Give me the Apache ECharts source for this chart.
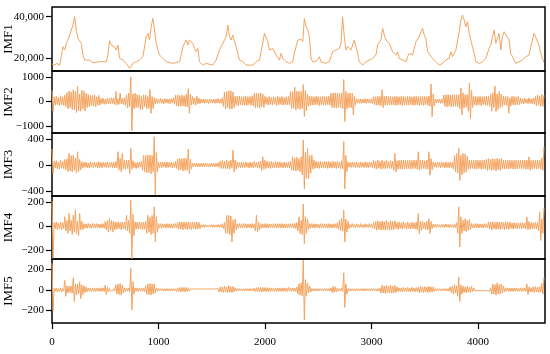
<!DOCTYPE html>
<html>
<head>
<meta charset="utf-8">
<script src="https://cdn.jsdelivr.net/npm/echarts@6/dist/echarts.min.js"></script>
<style>html,body{margin:0;padding:0;background:#fff}#c{width:550px;height:354px}</style>
</head>
<body>
<div id="c"></div>
<script>
// ---------- DATA ----------
const panelNames = ['IMF1', 'IMF2', 'IMF3', 'IMF4', 'IMF5'];
const xTicks = [0, 1000, 2000, 3000, 4000];
const yTicks1 = [20000, 40000];
const yTicks2 = [-1000, 0, 1000];
const yTicks3 = [-400, 0, 400];
const yTicks4 = [-200, 0, 200];
const yTicks5 = [-200, 0, 200];

// IMF1: sample index and value (traced)
const imf1X = [0,25,47,72,88,103,119,134,150,166,181,197,213,228,244,260,275,291,306,322,353,385,447,510,525,541,557,572,588,604,619,635,650,666,697,729,760,791,822,854,885,901,916,932,947,963,979,994,1010,1041,1073,1135,1198,1213,1229,1245,1260,1276,1291,1307,1323,1338,1354,1370,1385,1417,1448,1510,1542,1573,1604,1620,1635,1651,1667,1682,1698,1714,1729,1745,1760,1792,1823,1886,1917,1948,1979,1995,2011,2026,2042,2073,2104,2136,2151,2167,2198,2230,2261,2276,2292,2308,2323,2339,2355,2370,2386,2401,2417,2433,2448,2479,2511,2526,2573,2604,2636,2667,2698,2714,2729,2745,2761,2776,2808,2839,2855,2870,2886,2917,2949,2980,3011,3043,3058,3090,3105,3121,3136,3168,3199,3230,3246,3261,3293,3324,3340,3355,3386,3418,3449,3465,3480,3496,3511,3527,3543,3574,3605,3636,3668,3699,3730,3746,3761,3793,3824,3840,3855,3871,3886,3902,3918,3933,3949,3965,3980,4012,4043,4074,4105,4121,4137,4152,4168,4183,4199,4215,4230,4246,4262,4293,4308,4324,4355,4371,4418,4449,4480,4512,4527,4543,4574,4590,4605,4620];
const imf1Y = [17240,16760,17560,16600,17560,25570,23970,27180,28780,31180,33590,35990,40000,33590,29580,30380,27180,21570,19160,18360,19160,17880,18360,18360,21570,28460,26370,27180,25570,23970,26370,19960,20760,19160,17560,15150,17560,18360,19160,20760,30380,31980,28780,35190,39200,33590,27180,23970,21570,19960,18360,17560,18360,21570,25570,27180,28780,26370,28780,29580,27180,24770,23170,24770,18360,16760,17560,16760,19160,23970,27180,26370,30380,35990,30380,28780,31180,31980,25570,22370,19160,18360,16760,16760,18360,19160,27180,31980,31180,27980,23970,24770,21570,19160,22370,19960,18360,17560,18360,22370,25570,28780,27980,29100,27980,39200,35190,33590,30380,19960,18360,18360,20760,18360,17560,18360,23170,23970,24770,27180,40000,30380,23970,25570,23970,28780,27980,22370,18360,16760,18360,19160,19960,21570,26370,28780,34390,31180,28780,27180,23170,21570,23170,19960,19160,18360,20760,22370,21570,27980,30380,32790,34390,31180,29580,23170,22370,19960,18360,16760,17560,19160,19960,23170,20760,23970,32790,38400,40800,38400,35190,37600,31980,32790,25570,22370,18360,17560,18360,19960,24770,26370,30380,33590,27180,27980,31980,23970,30380,32790,31980,28780,22370,20760,17560,16760,19160,20760,21570,28780,31980,31180,26370,22370,19960,18200];

// IMF2..IMF5: one value every STEP samples
const STEP = 10;
const imf2 = [
450,-400,180,-150,210,-120,160,-180,230,-140,190,-160,250,-210,350,-300,420,-260,380,-330,
480,-350,410,-450,620,-380,300,-400,450,-310,410,-390,330,-250,280,-210,240,-180,260,-190,
270,-220,190,-160,240,-150,120,-100,130,-120,90,-110,140,-100,120,-110,150,-90,130,-130,
400,-140,110,-120,340,-100,130,-120,150,-160,270,-270,340,-220,1000,-1200,300,-300,330,-250,
280,-250,260,-330,200,-340,270,-210,260,-300,200,-280,480,-480,200,-300,150,-90,110,-80,
100,-70,120,-80,90,-100,110,-60,100,-80,100,-90,110,-70,150,-120,250,-180,270,-200,
240,-200,260,-180,230,-210,290,-220,520,-480,300,-150,200,-120,140,-150,210,-100,130,-90,
100,-60,90,-80,110,-70,80,-90,100,-60,90,-70,90,-80,100,-60,110,-70,90,-80,
150,-200,380,-300,400,-250,440,-320,430,-300,380,-250,210,-150,200,-180,220,-140,190,-160,
200,-150,210,-170,190,-130,200,-160,230,-180,330,-250,340,-240,320,-280,350,-220,300,-240,
210,-120,170,-150,200,-130,160,-140,190,-110,170,-160,210,-140,180,-120,200,-150,160,-130,
190,-140,200,-150,400,-300,390,-280,575,-350,420,-300,410,-320,400,-290,685,-615,450,-380,
300,-200,210,-160,200,-150,190,-140,210,-130,200,-170,190,-140,210,-150,200,-160,190,-130,
210,-150,330,-250,340,-260,350,-280,330,-240,340,-260,350,-300,890,-820,400,-300,340,-250,
340,-260,330,-550,200,-150,110,-60,100,-80,100,-70,90,-70,110,-80,100,-60,90,-70,
110,-90,200,-140,190,-150,210,-160,200,-170,480,-250,210,-160,220,-150,200,-140,200,-150,
190,-140,210,-160,200,-150,190,-130,210,-170,200,-140,190,-160,210,-150,200,-130,190,-160,
200,-150,210,-140,190,-160,200,-150,210,-170,200,-130,190,-160,220,-200,710,-620,300,-180,
100,-70,90,-60,100,-80,100,-70,260,-200,270,-220,280,-190,260,-230,270,-210,280,-200,
270,-220,270,-300,550,-550,350,-260,280,-230,270,-400,750,-690,450,-250,210,-150,200,-160,
200,-140,210,-170,190,-130,200,-150,210,-160,200,-200,300,-400,350,-250,617,-411,300,-330,
400,-250,300,-200,210,-150,200,-160,200,-480,150,-180,210,-140,200,-150,190,-130,210,-140,
140,-80,110,-100,130,-70,100,-90,140,-80,110,-100,130,-120,200,-180,270,-150,210,-200,
280,-200,250];
const imf3 = [
250,-130,60,-40,70,-55,50,-60,80,-45,60,-55,90,-70,100,-100,182,-90,150,-104,
150,-80,110,-120,208,-100,90,-70,55,-40,45,-30,50,-40,35,-45,52,-30,42,-40,
50,-30,40,-45,55,-35,45,-40,48,-30,42,-35,52,-40,40,-30,50,-35,44,-40,
60,-40,208,-70,104,-100,182,-60,78,-60,78,-50,75,-130,260,-60,70,-40,42,-52,
42,-40,50,-30,60,-80,150,-100,150,-120,160,-110,156,-130,150,-100,440,-460,200,-100,
50,-35,45,-40,52,-30,48,-40,50,-35,45,-30,48,-40,42,-35,60,-50,100,-80,
104,-70,100,-90,110,-80,104,-80,250,-130,90,-60,35,-20,30,-25,30,-20,28,-25,
30,-20,30,-25,32,-20,28,-25,30,-22,30,-20,28,-25,30,-22,40,-30,62,-50,
78,-50,62,-60,80,-50,65,-60,78,-40,234,-104,80,-60,52,-30,42,-40,50,-35,
42,-35,52,-30,40,-40,50,-35,42,-40,55,-30,45,-40,52,-45,60,-80,130,-60,
78,-50,62,-40,52,-50,60,-40,50,-45,62,-40,52,-40,52,-35,42,-40,50,-35,
42,-35,52,-40,60,-80,130,-80,104,-90,125,-80,100,-100,130,-150,390,-365,200,-200,
260,-208,150,-120,156,-60,80,-50,62,-40,52,-50,60,-40,50,-45,62,-40,52,-50,
60,-40,50,-45,62,-40,52,-50,60,-40,50,-50,70,-60,365,-365,150,-100,52,-30,
42,-35,50,-30,44,-40,52,-35,40,-40,50,-30,42,-35,52,-35,44,-40,50,-30,
42,-40,78,-50,62,-60,80,-45,60,-60,78,-50,62,-55,75,-45,60,-50,70,-50,
60,-80,182,-104,70,-60,78,-60,78,-60,80,-55,76,-60,78,-50,78,-60,76,-50,
78,-50,78,-60,208,-80,80,-60,78,-50,70,-60,80,-60,208,-156,100,-70,52,-30,
42,-35,50,-30,44,-40,52,-30,42,-40,50,-35,44,-40,52,-35,42,-60,150,-100,
182,-120,260,-234,150,-150,182,-120,170,-100,140,-60,78,-60,78,-50,76,-60,78,-55,
78,-50,76,-60,78,-55,80,-60,94,-80,104,-70,94,-80,100,-70,94,-90,104,-70,
94,-80,104,-60,80,-60,78,-55,78,-60,78,-50,76,-60,78,-55,78,-60,76,-50,
78,-60,78,-50,76,-60,80,-60,130,-80,78,-60,78,-50,76,-60,78,-50,78,-60,
110,-80,280];
const imf4 = [
210,-270,30,-20,36,-28,25,-22,34,-30,30,-20,80,-40,48,-60,106,-40,50,-70,
92,-50,140,-62,40,-80,106,-30,40,-30,22,-15,20,-18,24,-12,18,-20,22,-15,
20,-15,22,-12,18,-16,20,-14,20,-18,40,-30,48,-50,64,-35,46,-50,40,-30,
34,-25,36,-20,32,-30,34,-22,34,-30,92,-40,48,-60,218,-272,100,-80,36,-25,
34,-25,36,-22,32,-30,34,-25,40,-60,92,-50,76,-70,90,-60,162,-130,80,-50,
22,-14,20,-18,20,-12,18,-16,22,-15,20,-14,20,-18,20,-15,22,-16,30,-25,
36,-25,34,-30,38,-22,32,-28,36,-25,34,-30,34,-20,32,-26,36,-24,30,-20,
12,-8,12,-10,14,-8,10,-9,12,-7,12,-10,12,-8,10,-9,14,-10,12,-10,
20,-20,30,-60,92,-60,90,-70,85,-132,50,-60,60,-30,20,-15,22,-14,20,-16,
22,-14,20,-16,20,-12,18,-15,22,-16,20,-40,92,-48,30,-30,22,-15,20,-14,
22,-15,20,-16,20,-12,18,-15,22,-14,20,-16,20,-13,20,-15,22,-14,18,-15,
20,-14,20,-15,22,-13,20,-16,24,-20,30,-40,78,-62,50,-70,185,-146,80,-60,
60,-30,22,-16,22,-14,20,-15,20,-12,18,-16,22,-14,20,-15,20,-13,20,-16,
22,-14,18,-15,20,-13,20,-16,30,-25,48,-40,64,-40,134,-132,60,-50,40,-20,
14,-10,22,-10,14,-12,20,-9,14,-11,22,-10,12,-12,20,-10,14,-11,22,-10,
14,-15,30,-25,39,-35,45,-28,38,-32,44,-30,39,-34,46,-28,36,-33,45,-30,
39,-30,45,-20,30,-28,36,-20,28,-25,38,-18,26,-27,36,-20,28,-24,34,-20,
28,-25,36,-30,106,-62,40,-35,40,-20,30,-28,40,-30,64,-62,40,-20,17,-10,
14,-10,17,-8,12,-11,16,-9,14,-10,18,-8,14,-12,16,-9,12,-12,20,-15,
30,-60,162,-174,80,-60,50,-40,62,-45,48,-35,55,-30,22,-15,20,-14,22,-14,
20,-14,20,-12,18,-16,22,-14,20,-15,36,-25,34,-30,38,-22,32,-28,36,-24,
34,-28,36,-22,32,-30,38,-24,34,-26,36,-20,28,-24,30,-18,26,-22,28,-18,
28,-22,30,-18,26,-22,78,-30,40,-25,30,-20,28,-24,32,-22,30,-40,120,-120,
60,-60,150];
const imf5 = [
260,-200,15,-12,20,-18,14,-15,20,-20,12,-10,92,-62,40,-30,36,-25,39,-30,
118,-112,60,-50,59,-40,79,-85,50,-45,40,-25,30,-18,20,-12,20,-15,18,-12,
20,-14,20,-12,18,-15,20,-13,20,-15,46,-46,30,-20,13,-8,10,-9,12,-8,
50,-40,59,-45,62,-50,50,-30,20,-15,20,-12,20,-15,210,-194,80,-40,20,-12,
20,-15,18,-12,20,-14,20,-15,40,-40,59,-45,62,-50,58,-40,60,-30,20,-12,
13,-9,13,-8,12,-10,13,-9,13,-8,12,-9,13,-10,13,-8,12,-15,20,-15,
23,-18,26,-15,23,-20,24,-15,20,-10,10,-6,10,-7,9,-6,10,-8,10,-6,
10,-7,10,-6,9,-8,10,-7,10,-6,9,-7,10,-8,10,-6,12,-20,30,-20,
30,-25,36,-20,30,-28,43,-22,30,-25,34,-18,20,-10,13,-8,13,-9,12,-8,
13,-9,13,-8,12,-10,13,-9,13,-10,20,-15,23,-18,26,-16,23,-20,26,-15,
23,-16,24,-14,20,-15,20,-12,18,-14,20,-13,20,-15,18,-12,20,-14,20,-13,
20,-15,26,-12,20,-14,20,-13,20,-15,30,-40,62,-50,69,-60,290,-292,100,-60,
69,-30,40,-20,13,-8,13,-9,12,-8,13,-10,13,-8,12,-9,13,-9,13,-8,
13,-10,20,-25,36,-22,30,-20,20,-12,13,-10,20,-12,167,-170,60,-40,13,-8,
13,-9,13,-8,12,-10,13,-9,13,-8,12,-9,13,-10,13,-8,12,-9,13,-8,
13,-9,13,-8,12,-10,13,-10,20,-30,46,-30,39,-35,44,-28,39,-30,46,-30,
39,-30,44,-25,30,-15,20,-14,20,-18,26,-14,20,-18,24,-15,20,-18,26,-14,
20,-18,24,-15,25,-28,36,-22,30,-25,34,-20,30,-26,36,-22,30,-22,30,-15,
13,-9,13,-8,12,-10,13,-9,13,-8,12,-9,13,-10,30,-25,39,-40,52,-30,
39,-60,125,-112,50,-40,36,-25,30,-28,34,-22,30,-25,36,-15,20,-8,10,-6,
10,-7,10,-6,9,-8,10,-7,10,-8,10,-10,20,-40,59,-40,52,-50,69,-40,
52,-40,59,-30,40,-20,20,-12,20,-15,20,-13,18,-14,20,-12,20,-15,18,-12,
20,-15,20,-12,20,-14,59,-46,30,-20,20,-20,30,-25,33,-20,30,-25,33,-20,
62,-40,120];

// ---------- CHART ----------
const FONT = "'Liberation Serif','Times New Roman',serif";
const ORANGE = '#F4A460';
const grids = [
  {top: 7, height: 64},
  {top: 71, height: 62},
  {top: 133, height: 63},
  {top: 196, height: 63},
  {top: 259, height: 64}
];
const yRanges = [[13900, 44660], [-1284, 1236], [-474, 497], [-275, 253], [-322, 302]];
const yTickSets = [yTicks1, yTicks2, yTicks3, yTicks4, yTicks5];
const fmt = (v, i) => {
  const s = i === 0 ? Math.abs(v).toLocaleString('en-US') : String(Math.abs(v));
  return (v < 0 ? '\u2212' : '') + s;
};
function toPairs(arr) { return arr.map((v, i) => [i * STEP, v]); }
const seriesData = [
  imf1X.map((x, i) => [x, imf1Y[i]]),
  toPairs(imf2), toPairs(imf3), toPairs(imf4), toPairs(imf5)
];

const option = {
  animation: false,
  backgroundColor: '#fff',
  textStyle: {fontFamily: FONT},
  grid: grids.map(g => ({left: 52, right: 5, top: g.top, height: g.height, show: true,
    borderColor: '#000', borderWidth: 1.5, backgroundColor: 'transparent',
    containLabel: false, outerBoundsMode: 'none'})),
  xAxis: grids.map((g, i) => ({
    type: 'value', gridIndex: i, min: 0, max: 4630, position: 'bottom',
    splitLine: {show: false},
    axisLine: {show: false, onZero: false},
    axisTick: {show: i === 4, length: 6, lineStyle: {color: '#000', width: 1.2}, customValues: xTicks},
    axisLabel: {show: i === 4, margin: 14, color: '#000', fontSize: 11, fontFamily: FONT,
      customValues: xTicks, formatter: v => String(v)}
  })),
  yAxis: grids.map((g, i) => ({
    type: 'value', gridIndex: i, min: yRanges[i][0], max: yRanges[i][1],
    name: panelNames[i], nameLocation: 'middle', nameGap: 37, nameMoveOverlap: false,
    nameTextStyle: {fontSize: 13, color: '#000', fontFamily: FONT},
    splitLine: {show: false},
    axisLine: {show: false, onZero: false},
    axisTick: {show: true, length: 6, lineStyle: {color: '#000', width: 1.2}, customValues: yTickSets[i]},
    axisLabel: {margin: 8, color: '#000', fontSize: 11, fontFamily: FONT, customValues: yTickSets[i],
      formatter: v => fmt(v, i)}
  })),
  series: seriesData.map((d, i) => ({
    type: 'line', xAxisIndex: i, yAxisIndex: i, data: d, symbol: 'none',
    lineStyle: {color: ORANGE, width: 1, join: 'bevel'},
    sampling: null, z: 1
  }))
};
const chart = echarts.init(document.getElementById('c'), null, {renderer: 'canvas'});
chart.setOption(option);
</script>
</body>
</html>
